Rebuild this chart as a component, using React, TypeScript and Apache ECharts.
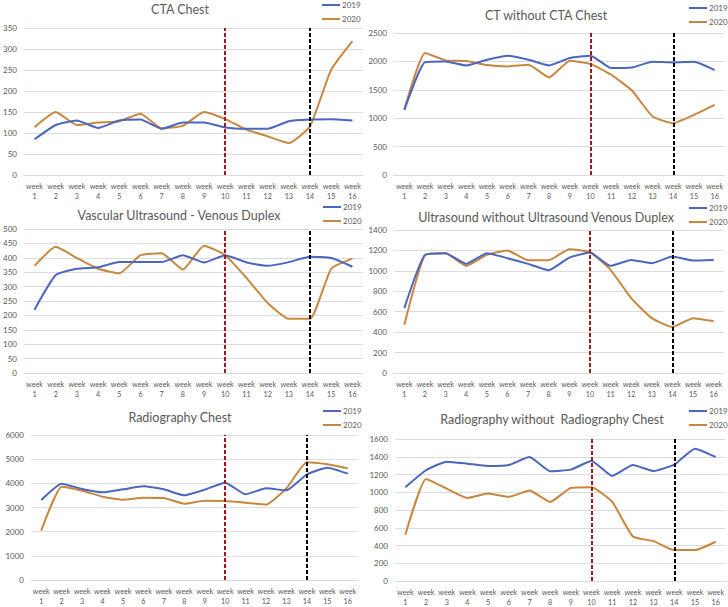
import React, { useEffect, useRef } from "react";
import * as echarts from "echarts";

const weeks = ["1","2","3","4","5","6","7","8","9","10","11","12","13","14","15","16"];
const weekLabels = weeks.map((w) => "week\n" + w);

const titles = [
  "CTA Chest",
  "CT without CTA Chest",
  "Vascular Ultrasound - Venous Duplex",
  "Ultrasound without Ultrasound Venous Duplex",
  "Radiography Chest",
  "Radiography without  Radiography Chest",
];

const cta2019 = [85, 119, 130, 112, 130, 132, 110, 125, 125, 113, 110, 110, 128, 132, 133, 130];
const cta2020 = [114, 150, 119, 125, 128, 146, 111, 117, 150, 133, 108, 92, 76, 116, 251, 319];

const ct2019 = [1147, 1988, 2000, 1929, 2029, 2100, 2029, 1929, 2059, 2100, 1882, 1894, 1994, 1982, 1994, 1847];
const ct2020 = [1147, 2147, 2018, 2006, 1935, 1912, 1941, 1718, 2012, 1953, 1765, 1488, 1029, 912, 1059, 1235];

const vus2019 = [220, 340, 362, 367, 385, 385, 385, 409, 384, 409, 384, 372, 385, 404, 399, 369];
const vus2020 = [372, 438, 399, 362, 346, 409, 416, 359, 442, 409, 330, 243, 188, 188, 362, 397];

const us2019 = [635, 1156, 1173, 1068, 1173, 1124, 1068, 1007, 1130, 1179, 1049, 1107, 1075, 1140, 1101, 1107];
const us2020 = [472, 1153, 1173, 1049, 1156, 1199, 1104, 1104, 1212, 1182, 1010, 733, 537, 450, 537, 508];

const rc2019 = [3310, 3986, 3766, 3628, 3752, 3876, 3752, 3503, 3738, 4028, 3545, 3793, 3710, 4372, 4648, 4400];
const rc2020 = [2041, 3862, 3697, 3448, 3324, 3407, 3393, 3159, 3283, 3269, 3200, 3117, 3793, 4869, 4786, 4621];

const rx2019 = [1057, 1248, 1345, 1322, 1296, 1307, 1397, 1236, 1255, 1352, 1184, 1307, 1240, 1311, 1491, 1397];
const rx2020 = [521, 1150, 1041, 936, 985, 948, 1019, 891, 1049, 1057, 891, 502, 449, 348, 348, 442];

const series2019 = [cta2019, ct2019, vus2019, us2019, rc2019, rx2019];
const series2020 = [cta2020, ct2020, vus2020, us2020, rc2020, rx2020];
const yMax = [350, 2500, 500, 1400, 6000, 1600];
const yStep = [50, 500, 50, 200, 1000, 200];

const grids = [
  { left: 22, top: 28, width: 341, height: 147 },
  { left: 394, top: 33, width: 331, height: 142 },
  { left: 22, top: 229, width: 341, height: 144 },
  { left: 394, top: 230, width: 330, height: 143 },
  { left: 31, top: 435, width: 327, height: 145 },
  { left: 395, top: 439, width: 331, height: 142 },
];
const titlePos = [
  [180, 9], [546, 15], [179, 215], [546, 217], [180, 417], [552, 419],
];
const legendPos = [
  [322, 1], [689, 4], [323, 203], [689, 204], [323, 407], [689, 407],
];

const BLUE = "#4A66BE";
const ORANGE = "#C8873F";
const TXT = "#595959";
const FONT = "Lato, 'Liberation Sans', sans-serif";

export default function App() {
  const ref = useRef<HTMLDivElement>(null);
  useEffect(() => {
    if (!ref.current) return;
    const chart = echarts.init(ref.current, undefined, { renderer: "svg" });
    const series: any[] = [];
    series2019.forEach((d, i) => {
      series.push({
        name: "2019",
        type: "line",
        xAxisIndex: i,
        yAxisIndex: i,
        data: d,
        showSymbol: false,
        smooth: 0.15,
        lineStyle: { color: BLUE, width: 2 },
        itemStyle: { color: BLUE },
        z: 3,
        markLine: {
          silent: true,
          symbol: "none",
          label: { show: false },
          animation: false,
          data: [
            { xAxis: 9, lineStyle: { color: "#A3161C", type: [4, 2], width: 2 } },
            { xAxis: 13, lineStyle: { color: "#000000", type: [4, 2], width: 2 } },
          ],
        },
      });
      series.push({
        name: "2020",
        type: "line",
        xAxisIndex: i,
        yAxisIndex: i,
        data: series2020[i],
        showSymbol: false,
        smooth: 0.15,
        lineStyle: { color: ORANGE, width: 2 },
        itemStyle: { color: ORANGE },
        z: 2,
      });
    });
    const option: any = {
      animation: false,
      textStyle: { fontFamily: FONT },
      grid: grids,
      xAxis: grids.map((_, i) => ({
        type: "category",
        gridIndex: i,
        data: weekLabels,
        boundaryGap: true,
        axisLine: { show: true, lineStyle: { color: "#d9d9d9" } },
        axisTick: { show: false },
        axisLabel: {
          interval: 0,
          color: TXT,
          fontSize: 7.2,
          lineHeight: 10,
          margin: 6,
          fontFamily: FONT,
        },
      })),
      yAxis: grids.map((_, i) => ({
        type: "value",
        gridIndex: i,
        min: 0,
        max: yMax[i],
        interval: yStep[i],
        axisLine: { show: false },
        axisTick: { show: false },
        splitLine: { lineStyle: { color: "#dcdcdc", width: 1 } },
        axisLabel: {
          color: TXT,
          fontSize: 8,
          margin: 7,
          fontFamily: FONT,
          formatter: (v: number) => String(v),
        },
      })),
      legend: legendPos.map((p) => ({
        data: ["2019", "2020"],
        orient: "vertical",
        left: p[0],
        top: p[1],
        icon: "rect",
        itemWidth: 18,
        itemHeight: 2,
        itemGap: 6,
        selectedMode: false,
        textStyle: { color: TXT, fontSize: 8, padding: [0, 0, 0, -3], fontFamily: FONT },
        padding: 0,
      })),
      graphic: titles.map((t, i) => ({
        type: "text",
        x: titlePos[i][0],
        y: titlePos[i][1],
        style: {
          text: t,
          textAlign: "center",
          textVerticalAlign: "middle",
          fill: TXT,
          fontSize: 12.5,
          fontFamily: FONT,
        },
      })),
      series,
    };
    chart.setOption(option);
    return () => chart.dispose();
  }, []);
  return (
    <div
      ref={ref}
      style={{ position: "fixed", left: 0, top: 0, width: 728, height: 607, background: "#fff" }}
    />
  );
}
